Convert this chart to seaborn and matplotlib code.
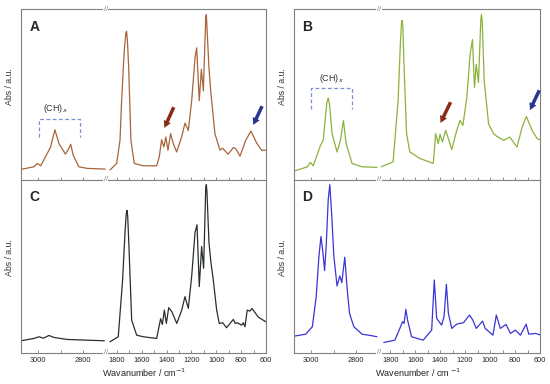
import numpy as np
import matplotlib
matplotlib.use("Agg")
import matplotlib.pyplot as plt
from matplotlib.ticker import MultipleLocator
import seaborn as sns

# wavenumber (cm-1) and absorbance (a.u.)
# "hi" = C-H stretching region, "lo" = fingerprint region
A_hi_wn = [3075, 3018, 3003, 2988, 2959, 2944, 2925, 2907, 2878, 2863, 2855, 2844, 2819, 2782, 2702]
A_hi_abs = [10.7, 13.3, 16.7, 14.3, 26.7, 33.3, 50.7, 36.7, 26, 32, 36, 25, 13.3, 11.7, 11]
A_lo_wn = [1856, 1802, 1775, 1762, 1741, 1728, 1722, 1715, 1705, 1687, 1660, 1588, 1480, 1459, 1440, 1422, 1406,
           1389, 1368, 1346, 1319, 1279, 1252, 1225, 1198, 1171, 1158, 1137, 1120, 1104, 1085, 1080,
           1059, 1045, 1011, 970, 949, 904, 863, 844, 809, 763, 721, 675, 635, 602]
A_lo_abs = [10, 16.7, 40, 80, 130, 148, 150, 140, 113.3, 40, 16.7, 14.3, 14.3, 23.3, 40.7, 33.3, 43.3,
            30, 46.7, 36.7, 28.3, 43.3, 57.3, 50, 80, 123.3, 133.3, 80, 111.7, 90, 164, 166.7,
            113.3, 90, 46.7, 30, 32, 26, 32.7, 31.7, 24, 40, 49.3, 37.3, 30, 30]

B_hi_wn = [3070, 3016, 3003, 2990, 2958, 2946, 2930, 2924, 2918, 2907, 2885, 2870, 2857, 2845, 2819, 2775, 2709]
B_hi_abs = [9.3, 13.3, 17.7, 14.3, 35, 40, 78, 82.7, 76, 46.7, 28.3, 40, 60, 36.7, 16.7, 13.3, 12.7]
B_lo_wn = [1871, 1777, 1737, 1718, 1710, 1705, 1699, 1689, 1669, 1643, 1562, 1455, 1436, 1415, 1401, 1382,
           1355, 1307, 1267, 1240, 1218, 1186, 1160, 1141, 1125, 1111, 1093, 1074, 1069, 1063, 1047, 1012,
           972, 945, 891, 843, 784, 743, 709, 663, 623, 590]
B_lo_abs = [13.3, 18.3, 80, 140, 158, 161, 155, 113.3, 46.7, 28.3, 21.7, 16.7, 46.7, 36.7, 46, 38.3,
            50, 30.7, 50, 60, 55, 83.3, 126.7, 141.7, 93.3, 116.7, 98.3, 162, 166.7, 160, 100, 56.7,
            46.7, 44, 40, 43.3, 33.3, 53.3, 64, 50, 41.7, 40]

C_hi_wn = [3075, 3018, 2995, 2976, 2951, 2929, 2870, 2782, 2706]
C_hi_abs = [11.7, 14, 15.7, 14.3, 17, 15, 13, 12.3, 11.7]
C_lo_wn = [1856, 1789, 1754, 1735, 1725, 1719, 1713, 1703, 1681, 1641, 1588, 1480, 1448, 1434, 1418, 1402,
           1383, 1358, 1318, 1278, 1252, 1225, 1198, 1171, 1155, 1137, 1118, 1102, 1085, 1080, 1075, 1059,
           1043, 1024, 997, 976, 949, 917, 863, 847, 831, 796, 783, 769, 751, 729, 713, 662, 602]
C_lo_abs = [10.7, 15.7, 72.3, 119, 138, 141.7, 136, 105.7, 32.3, 17.3, 15.7, 14, 33.7, 28, 42.3, 29,
            44.7, 40.7, 29, 42.3, 55.7, 44, 76, 119.7, 127.3, 65.7, 105.7, 84, 164, 167.3, 160, 109.7,
            89.7, 72.3, 42.3, 29, 29.7, 24.7, 33, 29, 29.7, 27.3, 29.7, 25.7, 42.3, 41.3, 44, 35.3, 30.7]

D_hi_wn = [3074, 3023, 2994, 2977, 2965, 2956, 2947, 2940, 2933, 2924, 2917, 2909, 2899, 2885,
           2873, 2864, 2851, 2840, 2830, 2811, 2775, 2731, 2709]
D_hi_abs = [16.3, 18.3, 25.7, 55.7, 95.7, 115.7, 99, 81.7, 105.7, 152.3, 167.3, 139, 95.7, 66.3,
            76.3, 69.7, 95, 62.3, 39, 25.7, 18.3, 16.7, 15.7]
D_lo_wn = [1852, 1763, 1723, 1701, 1689, 1675, 1661, 1629, 1536, 1468, 1447, 1428, 1388, 1369,
           1350, 1334, 1307, 1267, 1213, 1165, 1138, 1111, 1060, 1039, 977, 950, 918, 872, 837,
           797, 757, 711, 690, 636, 590]
D_lo_abs = [10, 12.3, 24, 30.7, 29, 43, 32.3, 15.7, 12.3, 22.3, 72.3, 34, 27.3, 35.7,
            68, 39, 24, 28.3, 29.7, 37.3, 32.3, 24, 31.3, 24, 17.3, 37.3, 24, 28, 19,
            22.3, 17.3, 28.3, 18.3, 19, 17.3]

sns.set_style("ticks")
plt.rcParams['font.family'] = ['Liberation Sans', 'DejaVu Sans']

fig = plt.figure(figsize=(5.5, 3.84), dpi=100)

frame = "#808080"


def panel(x0, xb, x1, y0, h, hi_wn, hi_abs, lo_wn, lo_abs, color, letter, xlabel=None):
    ax1 = fig.add_axes([x0, y0, xb - x0, h])
    ax2 = fig.add_axes([xb, y0, x1 - xb, h])
    sns.lineplot(x=hi_wn, y=hi_abs, ax=ax1, color=color, lw=0.9, sort=False, estimator=None)
    sns.lineplot(x=lo_wn, y=lo_abs, ax=ax2, color=color, lw=0.9, sort=False, estimator=None)
    ax1.set_xlim(3075, 2700)
    ax2.set_xlim(1890, 600)
    ax1.xaxis.set_major_locator(MultipleLocator(200))
    ax1.xaxis.set_minor_locator(MultipleLocator(100))
    ax2.xaxis.set_major_locator(MultipleLocator(200))
    ax2.xaxis.set_minor_locator(MultipleLocator(100))
    for ax in (ax1, ax2):
        ax.set_ylim(0, 172)
        ax.set_yticks([])
        ax.set_ylabel("")
        ax.set_xlabel("")
        for s in ax.spines.values():
            s.set_color(frame)
            s.set_linewidth(0.8)
        ax.tick_params(axis="x", which="both", direction="in", length=2.5, width=0.6,
                       color=frame, labelsize=5.3, pad=3, labelbottom=xlabel is not None)
    ax1.spines["right"].set_visible(False)
    ax2.spines["left"].set_visible(False)
    ax1.set_ylabel("Abs / a.u.", fontsize=6.3, color="#333333")
    ax1.yaxis.set_label_coords(-0.085, 0.55)
    ax1.text(0.1, 0.9, letter, transform=ax1.transAxes, fontsize=10, fontweight="bold",
             ha="left", va="center")
    for yy in (0, 1):
        ax2.text(0, yy, "//", transform=ax2.transAxes, fontsize=5.5, color=frame,
                 ha="center", va="center",
                 bbox=dict(facecolor="white", edgecolor="none", pad=0.3))
    return ax1, ax2


def bracket(ax, xa, xb, top, bot, tx, ty):
    ax.plot([xa, xa, xb, xb], [bot, top, top, bot], ls=(0, (3, 2)), color="#7d8fcf", lw=0.9)
    ax.text(tx, ty, "(CH)$_x$", fontsize=6.5, ha="center", va="bottom", color="#333333")


def arrow(ax, tail, head, color):
    ax.annotate("", xy=head, xytext=tail,
                arrowprops=dict(arrowstyle="simple,head_length=0.5,head_width=0.55,tail_width=0.25",
                                color=color, lw=0))


brown_arrow = "#8a2c14"
navy_arrow = "#2a3590"

# A
a1, a2 = panel(0.0382, 0.1922, 0.4836, 0.5313, 0.4440,
               A_hi_wn, A_hi_abs, A_lo_wn, A_lo_abs, "#a8643a", "A")
bracket(a1, 2997, 2816, 62, 43, 2922, 66)
arrow(a2, (1333, 76), (1427, 50), brown_arrow)
arrow(a2, (622, 77), (712, 53), navy_arrow)

# B
b1, b2 = panel(0.5345, 0.6891, 0.9818, 0.5313, 0.4440,
               B_hi_wn, B_hi_abs, B_lo_wn, B_lo_abs, "#8db23c", "B")
bracket(b1, 3001, 2819, 92.7, 71.7, 2908, 96)
arrow(b2, (1307, 81), (1407, 55), brown_arrow)
arrow(b2, (596, 93), (690, 68), navy_arrow)

# C
panel(0.0382, 0.1922, 0.4836, 0.0820, 0.4493,
      C_hi_wn, C_hi_abs, C_lo_wn, C_lo_abs, "#2a2e2e", "C", True)

# D
panel(0.5345, 0.6891, 0.9818, 0.0820, 0.4493,
      D_hi_wn, D_hi_abs, D_lo_wn, D_lo_abs, "#3a35d4", "D", True)

fig.text(0.262, 0.028, "Wavanumber / cm$^{-1}$", fontsize=6.5, ha="center", va="center",
         color="#222222")
fig.text(0.760, 0.028, "Wavenumber / cm $^{-1}$", fontsize=6.5, ha="center", va="center",
         color="#222222")

fig.savefig("out.png", dpi=100)
